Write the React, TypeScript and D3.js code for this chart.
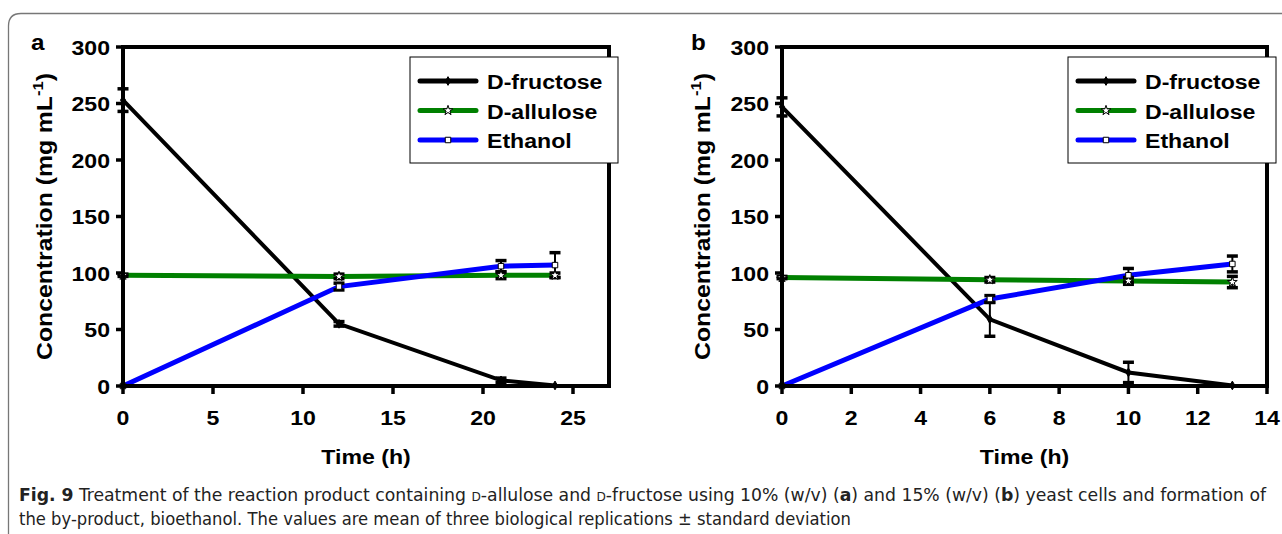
import React from 'react';
import * as d3 from 'd3';

// panel a: 10% (w/v) yeast cells
const timesA = [0, 12, 21, 24];
const fructoseA = [253, 55, 5, 0.5];
const fructoseErrA = [10, 2, 2, 0];
const alluloseA = [98, 97, 98, 98];
const alluloseErrA = [1, 2, 3, 2];
const ethanolA = [0, 88, 106, 107];
const ethanolErrA = [0, 3, 5, 11];

// panel b: 15% (w/v) yeast cells
const timesB = [0, 6, 10, 13];
const fructoseB = [247, 59, 12, 0.5];
const fructoseErrB = [8, 15, 9, 0];
const alluloseB = [96, 94, 93, 92];
const alluloseErrB = [1, 2, 3, 5];
const ethanolB = [0, 77, 98, 108];
const ethanolErrB = [0, 3, 6, 7];

const yTicks = [0, 50, 100, 150, 200, 250, 300];
const xTicksA = [0, 5, 10, 15, 20, 25];
const xTicksB = [0, 2, 4, 6, 8, 10, 12, 14];
const seriesNames = ['D-fructose', 'D-allulose', 'Ethanol'];
const seriesColors = ['#000000', '#008000', '#0000ff'];

const FONT = '"Liberation Sans", Arial, sans-serif';
const SX = 1.1;

const Txt = ({ x, y, size, anchor = 'start', rotate = false, children }: any) => {
  const tf = `translate(${x},${y})${rotate ? ' rotate(-90)' : ''} scale(${SX},1)`;
  return (
    <text transform={tf} fontSize={size} fontWeight="bold" fontFamily={FONT} textAnchor={anchor} fill="#000">
      {children}
    </text>
  );
};

const symbols = [
  { type: d3.symbolDiamond, size: 22, fill: '#000' },
  { type: d3.symbolStar, size: 30, fill: '#fff' },
  { type: d3.symbolSquare, size: 30, fill: '#fff' },
];

const Panel = (props: any) => {
  const { letter, x0, x1, xMax, xTicks, times, series, errs, legend, letterX, yLabelX } = props;
  const top = 47, bottom = 386;
  const x = d3.scaleLinear().domain([0, xMax]).range([x0, x1]);
  const y = d3.scaleLinear().domain([0, 300]).range([bottom, top]);
  const line = d3.line<number>().x((d, i) => x(times[i])).y(d => y(d));
  const widths = [4, 5, 5];

  return (
    <g>
      <Txt x={letterX} y={50} size={22}>{letter}</Txt>
      {/* series lines */}
      {series.map((s: number[], k: number) => (
        <path key={k} d={line(s) as string} fill="none" stroke={seriesColors[k]} strokeWidth={widths[k]} />
      ))}
      {/* error bars */}
      {series.map((s: number[], k: number) =>
        s.map((v, i) => {
          const e = errs[k][i];
          if (!e) return null;
          const cx = x(times[i]);
          return (
            <g key={`e${k}${i}`} stroke="#000" strokeWidth={2}>
              <line x1={cx} x2={cx} y1={y(v + e)} y2={y(v - e)} />
              <line x1={cx - 5.5} x2={cx + 5.5} y1={y(v + e)} y2={y(v + e)} strokeWidth={3.5} />
              <line x1={cx - 5.5} x2={cx + 5.5} y1={y(v - e)} y2={y(v - e)} strokeWidth={3.5} />
            </g>
          );
        })
      )}
      {/* markers */}
      {series.map((s: number[], k: number) =>
        s.map((v, i) => (
          <path key={`m${k}${i}`} transform={`translate(${x(times[i])},${y(v)})`}
            d={d3.symbol().type(symbols[k].type).size(symbols[k].size)() as string}
            fill={symbols[k].fill} stroke="#000" strokeWidth={1} />
        ))
      )}
      {/* frame */}
      <rect x={x0} y={top} width={x1 - x0} height={bottom - top} fill="none" stroke="#000" strokeWidth={4} />
      {/* y axis */}
      {yTicks.map(t => (
        <g key={`y${t}`}>
          <line x1={x0 - 7} x2={x0} y1={y(t)} y2={y(t)} stroke="#000" strokeWidth={3.5} />
          <Txt x={x0 - 13} y={y(t) + 7.5} size={21} anchor="end">{t}</Txt>
        </g>
      ))}
      {/* x axis */}
      {xTicks.map((t: number) => (
        <g key={`x${t}`}>
          <line x1={x(t)} x2={x(t)} y1={bottom} y2={bottom + 8} stroke="#000" strokeWidth={3.5} />
          <Txt x={x(t)} y={425} size={21} anchor="middle">{t}</Txt>
        </g>
      ))}
      <Txt x={(x0 + x1) / 2} y={464} size={21} anchor="middle">Time (h)</Txt>
      <Txt x={yLabelX} y={(top + bottom) / 2} size={22.5} anchor="middle" rotate>
        Concentration (mg mL<tspan fontSize={15} dy={-9}>-1</tspan><tspan dy={9}>)</tspan>
      </Txt>
      {/* legend */}
      <g>
        <rect x={legend.x} y={57} width={legend.w} height={106} fill="#fff" stroke="#000" strokeWidth={1} />
        {seriesNames.map((n, k) => {
          const ly = 81 + k * 29.5;
          return (
            <g key={n}>
              <line x1={legend.x + 10} x2={legend.x + 66} y1={ly} y2={ly} stroke={seriesColors[k]} strokeWidth={5} strokeLinecap="round" />
              <path transform={`translate(${legend.x + 38},${ly})`}
                d={d3.symbol().type(symbols[k].type).size(symbols[k].size)() as string}
                fill={symbols[k].fill} stroke="#000" strokeWidth={1} />
              <Txt x={legend.x + 77} y={ly + 8} size={21}>{n}</Txt>
            </g>
          );
        })}
      </g>
    </g>
  );
};

export default function App() {
  const capFont = '"Liberation Sans Narrow", "DejaVu Sans Condensed", "Liberation Sans", sans-serif';
  return (
    <svg width={1282} height={534} style={{ position: 'absolute', left: 0, top: 0, background: '#fff' }}>
      <path d="M8.5,534 L8.5,26 Q8.5,13.5 21,13.5 L1282,13.5" fill="none" stroke="#777" strokeWidth={1.3} />
      <Panel letter="a" letterX={31} x0={123} x1={609} xMax={27} xTicks={xTicksA} times={timesA}
        series={[fructoseA, alluloseA, ethanolA]} errs={[fructoseErrA, alluloseErrA, ethanolErrA]}
        legend={{ x: 410, w: 208 }} yLabelX={52} />
      <Panel letter="b" letterX={691} x0={782} x1={1267} xMax={14} xTicks={xTicksB} times={timesB}
        series={[fructoseB, alluloseB, ethanolB]} errs={[fructoseErrB, alluloseErrB, ethanolErrB]}
        legend={{ x: 1068, w: 208 }} yLabelX={710} />
      <text x={19} y={501} fontSize={17} fontFamily={capFont} fill="#222" textLength={1247} lengthAdjust="spacingAndGlyphs">
        <tspan fontWeight="bold">Fig. 9</tspan> Treatment of the reaction product containing <tspan fontSize={12}>D</tspan>-allulose and <tspan fontSize={12}>D</tspan>-fructose using 10% (w/v) (<tspan fontWeight="bold">a</tspan>) and 15% (w/v) (<tspan fontWeight="bold">b</tspan>) yeast cells and formation of
      </text>
      <text x={19} y={525} fontSize={17} fontFamily={capFont} fill="#222" textLength={832} lengthAdjust="spacingAndGlyphs">
        the by-product, bioethanol. The values are mean of three biological replications ± standard deviation
      </text>
    </svg>
  );
}
